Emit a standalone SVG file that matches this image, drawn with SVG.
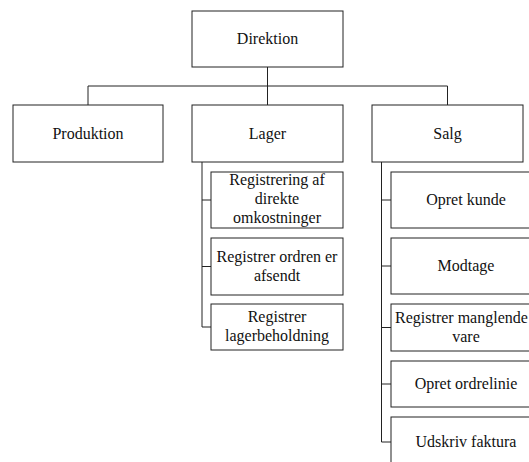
<svg xmlns="http://www.w3.org/2000/svg" width="529" height="462" viewBox="0 0 529 462">
<style>
rect{fill:#fff;stroke:#222;stroke-width:1}
text{font-family:"Liberation Serif","Times New Roman",serif;font-size:16px;fill:#111;text-anchor:middle}
#connectors path{fill:none;stroke:#222;stroke-width:1}
</style>
<rect x="0" y="0" width="529" height="462" style="stroke:none"/>
<g id="connectors">
<path d="M267.5 67V86M88 86H447.5M88 86V105M267.5 86V105M447.5 86V105"/>
<path d="M202 162V327M202 200H211M202 266.5H211M202 327H211"/>
<path d="M381.5 162V442M381.5 200H391M381.5 266H391M381.5 327.5H391M381.5 384H391M381.5 442H391"/>
</g>
<g id="direktion"><rect x="192" y="11" width="151" height="56"/><text x="267.5" y="44">Direktion</text></g>
<g id="produktion"><rect x="13" y="105" width="150" height="57"/><text x="88" y="139">Produktion</text></g>
<g id="lager"><rect x="192" y="105" width="151" height="57"/><text x="267.5" y="139">Lager</text></g>
<g id="salg"><rect x="372" y="105" width="151" height="57"/><text x="447.5" y="139">Salg</text></g>
<g id="lager1"><rect x="211" y="172" width="132" height="56"/><text x="277" y="185">Registrering af</text><text x="277" y="204">direkte</text><text x="277" y="223">omkostninger</text></g>
<g id="lager2"><rect x="211" y="238" width="132" height="57"/><text x="277" y="262">Registrer ordren er</text><text x="277" y="281">afsendt</text></g>
<g id="lager3"><rect x="211" y="304" width="132" height="46"/><text x="277" y="322">Registrer</text><text x="277" y="341">lagerbeholdning</text></g>
<g id="salg1"><rect x="391" y="172" width="150" height="56"/><text x="466" y="205">Opret kunde</text></g>
<g id="salg2"><rect x="391" y="238" width="150" height="56"/><text x="466" y="271">Modtage</text></g>
<g id="salg3"><rect x="391" y="304" width="150" height="47"/><text x="395" y="323" style="text-anchor:start">Registrer manglende</text><text x="466" y="342">vare</text></g>
<g id="salg4"><rect x="391" y="361" width="150" height="46"/><text x="466" y="389">Opret ordrelinie</text></g>
<g id="salg5"><rect x="391" y="417" width="150" height="50"/><text x="466" y="447">Udskriv faktura</text></g>
</svg>
